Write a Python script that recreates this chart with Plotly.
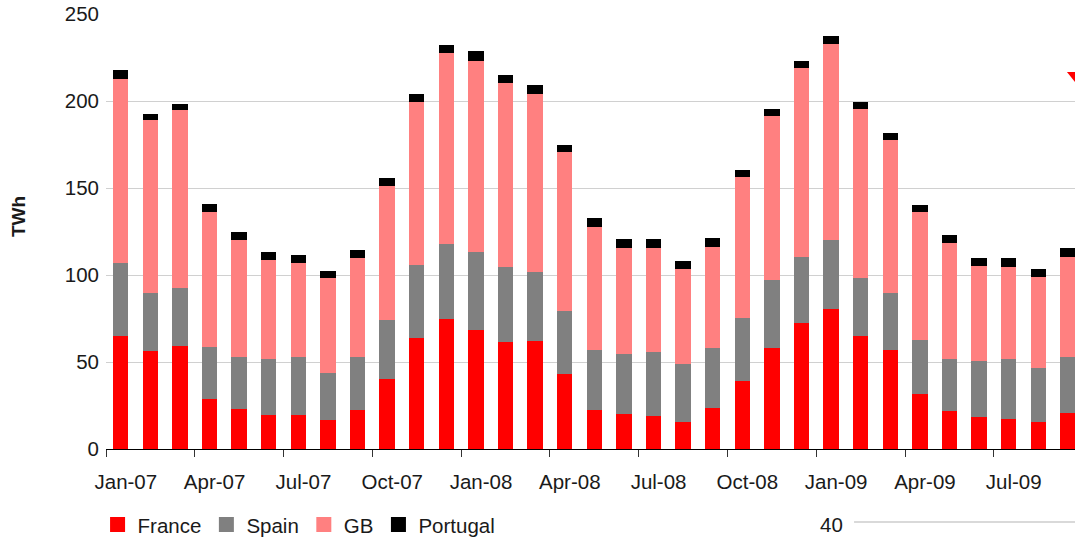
import plotly.graph_objects as go

months = ["Jan-07", "Feb-07", "Mar-07", "Apr-07", "May-07", "Jun-07", "Jul-07", "Aug-07", "Sep-07",
          "Oct-07", "Nov-07", "Dec-07", "Jan-08", "Feb-08", "Mar-08", "Apr-08", "May-08", "Jun-08",
          "Jul-08", "Aug-08", "Sep-08", "Oct-08", "Nov-08", "Dec-08", "Jan-09", "Feb-09", "Mar-09",
          "Apr-09", "May-09", "Jun-09", "Jul-09", "Aug-09", "Sep-09"]

france = [65.1, 56.5, 59.3, 28.9, 23.2, 19.7, 19.7, 16.8, 22.6, 40.4, 63.9, 74.9, 68.6, 61.7, 62.3,
          43.3, 22.6, 20.3, 19.1, 15.7, 23.7, 39.2, 58.2, 72.6, 80.6, 65.1, 57.1, 31.8, 22.0, 18.6,
          17.4, 15.7, 20.9]
spain = [41.9, 32.9, 33.3, 29.9, 29.8, 32.2, 33.3, 27.0, 30.4, 33.9, 41.9, 43.1, 44.8, 42.9, 39.5,
         36.2, 34.5, 34.5, 36.9, 33.3, 34.5, 36.2, 39.1, 37.7, 39.6, 33.3, 32.7, 31.0, 29.9, 32.1,
         34.5, 31.0, 32.1]
gb = [105.7, 99.7, 102.3, 77.5, 67.2, 56.8, 54.0, 54.6, 56.9, 76.9, 93.7, 109.6, 109.6, 105.8, 102.3,
      91.3, 70.6, 60.9, 59.7, 54.6, 58.0, 81.0, 94.1, 108.7, 112.6, 97.0, 87.8, 73.5, 66.6, 54.6,
      52.8, 52.3, 57.5]
portugal = [5.2, 3.5, 3.4, 4.6, 4.6, 4.6, 4.6, 4.0, 4.6, 4.6, 4.6, 4.6, 5.8, 4.6, 5.2,
            4.0, 5.2, 5.2, 5.2, 4.6, 5.3, 4.0, 4.0, 4.0, 4.6, 4.1, 4.1, 4.0, 4.6, 4.6,
            5.2, 4.6, 5.2]

series = [("France", france, "#FF0000"), ("Spain", spain, "#808080"),
          ("GB", gb, "#FF8080"), ("Portugal", portugal, "#000000")]

FONT = "Liberation Sans, Arial, sans-serif"
idx = list(range(len(months)))

fig = go.Figure()
for name, vals, col in series:
    fig.add_trace(go.Bar(x=idx, y=vals, name=name, marker=dict(color=col, line=dict(width=0)),
                         showlegend=False))
for name, vals, col in series:
    fig.add_trace(go.Scatter(x=[None], y=[None], mode="markers", name=name,
                             marker=dict(symbol="square", size=15, color=col)))

label_pos = [i + 0.17 for i in idx[::3]]
label_txt = months[::3]
boundaries = [i - 0.5 for i in idx[::3]]

fig.update_layout(
    width=1075, height=539,
    margin=dict(l=106, r=0, t=14, b=90, autoexpand=False),
    barmode="stack", bargap=0.48,
    plot_bgcolor="white", paper_bgcolor="white",
    font=dict(family=FONT, size=20, color="#1a1a1a"),
    xaxis=dict(range=[-0.5, 32.24], tickmode="array", tickvals=label_pos, ticktext=label_txt,
               ticks="", showgrid=False, zeroline=False, showline=True, linecolor="#000000",
               linewidth=1, ticklabelstandoff=14, tickfont=dict(size=20.5), automargin=False,
               minor=dict(tickmode="array", tickvals=boundaries, ticks="outside", ticklen=7,
                          tickwidth=1, tickcolor="#333333", showgrid=False)),
    yaxis=dict(range=[0, 250], dtick=50, showgrid=True, gridcolor="#d0d0d0", gridwidth=1.3,
               zeroline=False, showline=False, ticks="", ticklabelstandoff=6,
               tickfont=dict(size=20.5), automargin=False),
    legend=dict(orientation="h", x=-0.0087, y=-0.174, xanchor="left", yanchor="middle",
                traceorder="normal", font=dict(size=20.5), bgcolor="rgba(0,0,0,0)"),
    annotations=[
        dict(text="<b>TWh</b>", textangle=-90, xref="paper", yref="paper", x=-0.0905, y=0.534,
             xanchor="center", yanchor="middle", showarrow=False, font=dict(size=19)),
        dict(text="40", xref="paper", yref="paper", x=0.749, y=-0.1728, xanchor="center",
             yanchor="middle", showarrow=False, font=dict(size=20.5)),
    ],
    shapes=[
        dict(type="line", xref="paper", yref="paper", x0=0.772, x1=1.0, y0=-0.1677, y1=-0.1677,
             line=dict(color="#cccccc", width=1.5)),
        dict(type="path", xref="paper", yref="paper",
             path="M 0.9917 0.8668 L 1.0 0.8668 L 1.0 0.8438 Z",
             fillcolor="#FF0000", line=dict(width=0)),
    ],
)

fig.write_html(
    "out.html",
    config={"displayModeBar": False},
    post_script="document.body.style.margin='0';document.body.style.overflow='hidden';"
                "document.documentElement.style.overflow='hidden';",
)
